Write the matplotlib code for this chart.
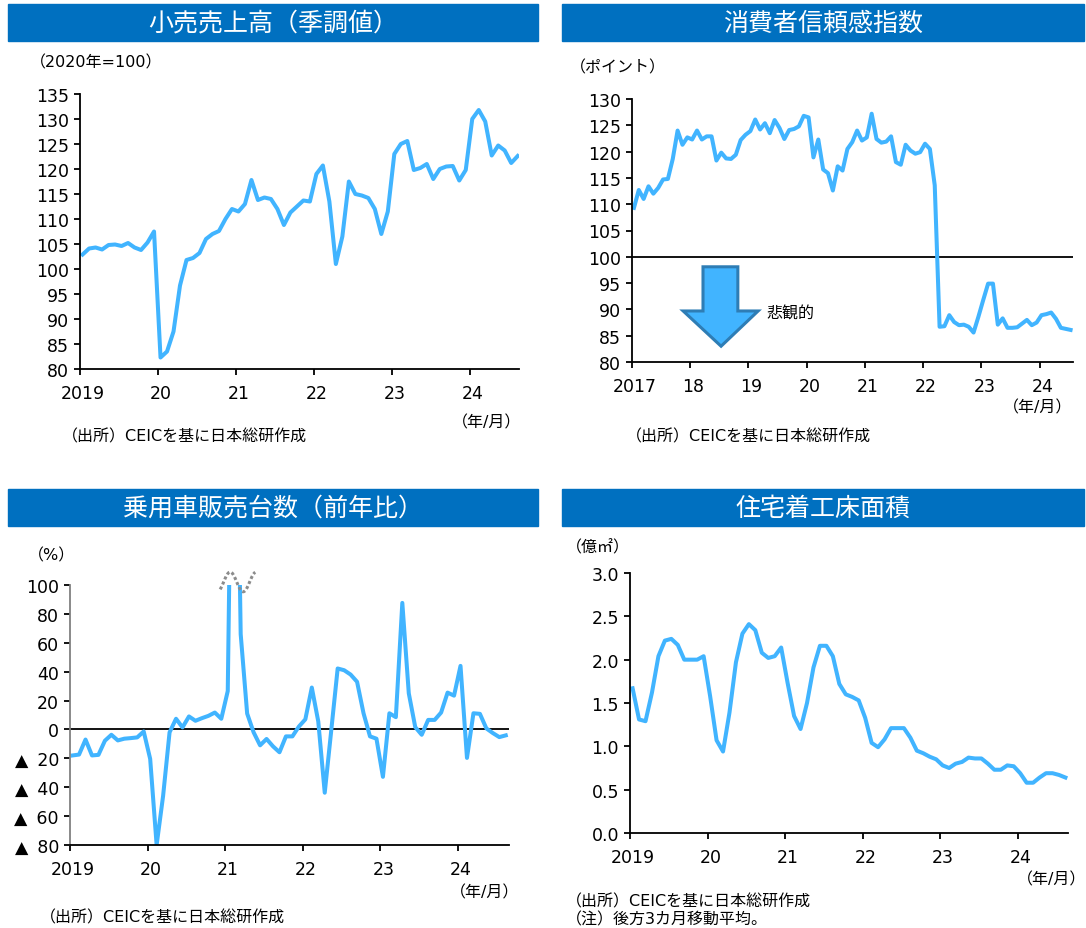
import numpy as np
import matplotlib
matplotlib.use("Agg")
import matplotlib.pyplot as plt
from matplotlib.patches import Rectangle, Polygon
from matplotlib.transforms import ScaledTranslation

plt.rcParams['font.family'] = ['DejaVu Sans', 'Noto Sans CJK JP']

W, H = 1086, 929
BLUE = '#41B4FF'
BANNER = '#0070C0'

# 小売売上高 (2019/1 - 2024/8)
retail = [102.9, 104.1, 104.3, 103.9, 104.8, 104.9, 104.6, 105.2, 104.3, 103.8, 105.3, 107.5,
          82.3, 83.5, 87.5, 96.7, 101.8, 102.2, 103.2, 106.0, 107.0, 107.6, 110.0, 112.0,
          111.5, 113.0, 117.8, 113.8, 114.3, 114.0, 112.0, 108.8, 111.3, 112.5, 113.7, 113.5,
          119.0, 120.7, 113.5, 101.0, 106.5, 117.5, 115.0, 114.7, 114.2, 112.0, 107.0, 111.5,
          123.0, 125.0, 125.6, 119.8, 120.2, 121.0, 118.0, 120.0, 120.5, 120.6, 117.7, 119.8,
          130.0, 131.8, 129.5, 122.7, 124.7, 123.7, 121.2, 122.6]

# 消費者信頼感指数 (2017/1 - 2024/7)
confidence = [109.3, 112.7, 111.0, 113.4, 112.0, 113.1, 114.7, 114.8, 118.6, 124.0, 121.3, 122.7,
              122.3, 124.0, 122.3, 122.9, 122.9, 118.3, 119.8, 118.7, 118.6, 119.4, 122.2, 123.2,
              123.9, 126.1, 124.2, 125.4, 123.5, 126.0, 124.5, 122.4, 124.1, 124.3, 124.8, 126.8,
              126.5, 118.9, 122.3, 116.6, 115.9, 112.6, 117.2, 116.4, 120.5, 121.8, 124.0, 122.1,
              122.7, 127.2, 122.4, 121.7, 121.9, 122.9, 118.0, 117.5, 121.3, 120.2, 119.6, 119.9,
              121.5, 120.5, 113.6, 86.7, 86.8, 88.9, 87.6, 87.0, 87.1, 86.7, 85.6, 88.6,
              91.8, 94.9, 94.9, 87.1, 88.3, 86.5, 86.5, 86.6, 87.3, 88.0, 87.0, 87.5,
              88.9, 89.1, 89.4, 88.2, 86.5, 86.3, 86.1]

# 乗用車販売台数 前年比 (2019/1 - 2024/8)
car_sales = [-18.0, -17.4, -7.0, -18.0, -17.6, -7.8, -3.7, -7.6, -6.4, -6.0, -5.5, -1.4,
             -20.4, -80.0, -46.0, -2.0, 7.4, 1.4, 9.0, 6.0, 7.8, 9.4, 11.7, 7.4,
             26.6, 360.0, 66.0, 11.0, -2.0, -11.0, -6.6, -11.7, -15.8, -4.8, -4.8, 2.0,
             7.0, 29.0, 5.5, -43.8, -1.0, 42.2, 41.0, 38.0, 33.0, 11.2, -4.8, -6.4,
             -32.8, 11.2, 8.5, 87.6, 25.0, 1.6, -3.7, 6.6, 6.6, 11.7, 25.5, 23.4,
             44.0, -19.7, 11.2, 10.8, 0.7, -2.5, -5.3, -4.1]

# 住宅着工床面積 後方3カ月移動平均 (2019/1 - 2024/8)
housing = [1.67, 1.31, 1.29, 1.62, 2.04, 2.22, 2.24, 2.17, 2.00, 2.00, 2.00, 2.04,
           1.58, 1.07, 0.94, 1.39, 1.97, 2.30, 2.41, 2.34, 2.08, 2.02, 2.04, 2.14,
           1.73, 1.35, 1.20, 1.50, 1.91, 2.16, 2.16, 2.04, 1.72, 1.60, 1.57, 1.53,
           1.33, 1.04, 0.99, 1.08, 1.21, 1.21, 1.21, 1.10, 0.95, 0.92, 0.88, 0.85,
           0.78, 0.75, 0.80, 0.82, 0.87, 0.86, 0.86, 0.80, 0.73, 0.73, 0.78, 0.77,
           0.69, 0.58, 0.58, 0.64, 0.69, 0.69, 0.67, 0.64]

years_19 = ['2019', '20', '21', '22', '23', '24']
years_17 = ['2017', '18', '19', '20', '21', '22', '23', '24']

LW = 2.9
TICK_FS = 12.5
NOTE_FS = 11.5


def px_axes(fig, l, r, t, b):
    return fig.add_axes([l / W, 1 - b / H, (r - l) / W, (b - t) / H])


def banner(fig, l, r, t, b, text):
    fig.patches.append(Rectangle((l / W, 1 - b / H), (r - l) / W, (b - t) / H,
                                 transform=fig.transFigure, color=BANNER, zorder=0))
    fig.text((l + r) / 2 / W, 1 - (t + b) / 2 / H, text, color='white', fontsize=18,
             ha='center', va='center')


def ftext(fig, x, y, s, **kw):
    kw.setdefault('fontsize', NOTE_FS)
    fig.text(x / W, 1 - y / H, s, va='center', **kw)


def style(ax, labels, xmax, ylim, yticks, ylabels=None):
    for s in ['top', 'right']:
        ax.spines[s].set_visible(False)
    for s in ['left', 'bottom']:
        ax.spines[s].set_linewidth(1.3)
    ax.set_xlim(0, xmax)
    ax.set_ylim(*ylim)
    ax.set_xticks(np.arange(len(labels)) * 12)
    ax.set_xticklabels(labels)
    ax.set_yticks(yticks)
    if ylabels is not None:
        ax.set_yticklabels(ylabels)
    ax.tick_params(direction='out', length=4, width=1.3, pad=4, labelsize=TICK_FS)
    ax.tick_params(axis='x', pad=7)
    shift = ScaledTranslation(3 / 100, 0, fig.dpi_scale_trans)
    for lab in ax.get_xticklabels():
        lab.set_transform(lab.get_transform() + shift)
    ax.patch.set_alpha(0)


fig = plt.figure(figsize=(W / 100, H / 100), dpi=100)

# --- 小売売上高 ---
banner(fig, 8, 538, 5, 42, '小売売上高（季調値）')
ax1 = px_axes(fig, 80, 519, 95, 370)
x = np.arange(len(retail)) + 0.4
ax1.plot(x, retail, color=BLUE, lw=LW, solid_joinstyle='round')
style(ax1, years_19, 67.6, (80, 135), np.arange(80, 136, 5))
ftext(fig, 30, 63, '（2020年=100）')
ftext(fig, 521, 423, '（年/月）', ha='right')
ftext(fig, 62, 437, '（出所）CEICを基に日本総研作成')

# --- 消費者信頼感指数 ---
banner(fig, 562, 1084, 5, 42, '消費者信頼感指数')
ax2 = px_axes(fig, 632, 1073, 100, 363)
x = np.arange(len(confidence)) + 0.4
ax2.axhline(100, color='black', lw=1.3)
ax2.plot(x, confidence, color=BLUE, lw=LW, solid_joinstyle='round')
style(ax2, years_17, 90.9, (80, 130), np.arange(80, 131, 5))
# 下向き矢印（軸の比率で配置）
arrow = [(0.161, 0.362), (0.240, 0.362), (0.240, 0.194), (0.286, 0.194),
         (0.202, 0.060), (0.116, 0.194), (0.161, 0.194)]
ax2.add_patch(Polygon(arrow, closed=True, transform=ax2.transAxes,
                      facecolor=BLUE, edgecolor='#2E7DB5', lw=2.2, zorder=3))
ax2.text(0.304, 0.185, '悲観的', transform=ax2.transAxes, fontsize=NOTE_FS, va='center')
ftext(fig, 570, 68, '（ポイント）')
ftext(fig, 1072, 408, '（年/月）', ha='right')
ftext(fig, 626, 437, '（出所）CEICを基に日本総研作成')

# --- 乗用車販売台数 ---
banner(fig, 8, 538, 490, 527, '乗用車販売台数（前年比）')
ax3 = px_axes(fig, 70, 509, 586, 846)
x = np.arange(len(car_sales)) + 0.4
ax3.axhline(0, color='black', lw=1.3)
ax3.plot(x, car_sales, color=BLUE, lw=LW, solid_joinstyle='round')
yt = np.arange(-80, 101, 20)
ylabs = [str(v) if v >= 0 else '▲ \u2009' + str(-v) for v in yt]
style(ax3, years_19, 67.9, (-80, 100), yt, ylabs)
ax3.spines['left'].set_color('#808080')
# 省略記号（波線）
t = np.linspace(0, 1, 60)
wx = 0.342 + 0.08 * t
wy = 1.012 + 0.038 * np.sin(2 * np.pi * 1.35 * t - 0.855)
ax3.plot(wx, wy, transform=ax3.transAxes, color='#8c8c8c', lw=2.2, ls=(0, (1, 0.8)),
         clip_on=False)
ftext(fig, 28, 556, '（%）')
ftext(fig, 519, 893, '（年/月）', ha='right')
ftext(fig, 40, 918, '（出所）CEICを基に日本総研作成')

# --- 住宅着工床面積 ---
banner(fig, 562, 1084, 490, 527, '住宅着工床面積')
ax4 = px_axes(fig, 630, 1068, 574, 834)
x = np.arange(len(housing)) + 0.4
ax4.plot(x, housing, color=BLUE, lw=LW, solid_joinstyle='round')
style(ax4, years_19, 67.8, (0, 3.0), np.arange(0, 3.01, 0.5),
      ['%.1f' % v for v in np.arange(0, 3.01, 0.5)])
ftext(fig, 566, 548, '（億㎡）')
ftext(fig, 1086, 880, '（年/月）', ha='right')
ftext(fig, 566, 902, '（出所）CEICを基に日本総研作成')
ftext(fig, 566, 920, '（注）後方3カ月移動平均。')

fig.savefig('out.png', dpi=100)
